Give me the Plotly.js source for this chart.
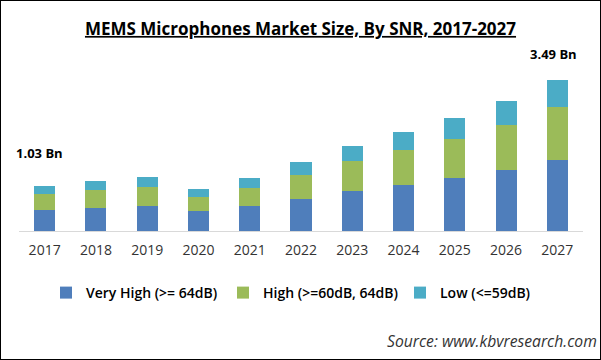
<!DOCTYPE html>
<html><head><meta charset="utf-8">
<script src="https://cdn.plot.ly/plotly-3.0.1.min.js"></script>
<style>html,body{margin:0;padding:0;background:#fff}#c{width:601px;height:360px;box-sizing:border-box;border:1px solid #000;}</style>
</head><body><div id="c"></div>
<script>
var years = ['2017','2018','2019','2020','2021','2022','2023','2024','2025','2026','2027'];
var veryHigh = [0.48,0.53,0.57,0.46,0.57,0.74,0.93,1.07,1.23,1.41,1.65];
var high     = [0.37,0.41,0.44,0.33,0.42,0.56,0.69,0.81,0.90,1.04,1.21];
var low      = [0.18,0.21,0.23,0.18,0.23,0.30,0.35,0.42,0.49,0.56,0.63];
var seriesNames = ['Very High (>= 64dB)','High (>=60dB, 64dB)','Low (<=59dB)'];
var colors = ['#4F7EBB','#9BBB59','#4BACC6'];
var firstLabel = '1.03 Bn', lastLabel = '3.49 Bn';

var totals = years.map(function(_,i){return veryHigh[i]+high[i]+low[i];});
var data = [veryHigh, high, low].map(function(v,k){
  return {type:'bar', x:years, y:v, name:seriesNames[k], marker:{color:colors[k]}, hoverinfo:'none'};
});
var font = 'Open Sans, sans-serif';
var last = years.length-1;
var layout = {
  width:599, height:358, barmode:'stack', bargap:0.59,
  margin:{l:18,r:17,t:57,b:128},
  paper_bgcolor:'#fff', plot_bgcolor:'#fff',
  showlegend:true,
  title:{text:'MEMS Microphones Market Size, By SNR, 2017-2027', x:0.5, xref:'container', xanchor:'center',
         y:1-28/358, yref:'container', yanchor:'middle',
         font:{family:font, size:17, weight:700, color:'#000', lineposition:'under'}},
  xaxis:{type:'category', range:[-0.5, last+0.5], showline:true, linecolor:'#D9D9D9', linewidth:1, ticks:'', showgrid:false,
         ticklabelstandoff:6, tickfont:{family:font, size:14, color:'#333'}, fixedrange:true},
  yaxis:{range:[0,4], visible:false, showgrid:false, zeroline:false, fixedrange:true},
  legend:{orientation:'h', xref:'container', yref:'container', x:45/599, xanchor:'left', y:1-292/358, yanchor:'middle',
          font:{family:font, size:14, weight:600, color:'#000'}, traceorder:'normal', entrywidth:132, entrywidthmode:'pixels'},
  annotations:[
    {x:0, y:totals[0], xref:'x', yref:'y', text:firstLabel, showarrow:false, yanchor:'bottom', xshift:-5, yshift:22,
     font:{family:font, size:13, weight:700, color:'#000'}},
    {x:last, y:totals[last], xref:'x', yref:'y', text:lastLabel, showarrow:false, yanchor:'bottom', xshift:-4, yshift:15,
     font:{family:font, size:13, weight:700, color:'#000'}},
    {x:1, y:0, xref:'paper', yref:'paper', text:'<i>Source: www.kbvresearch.com</i>', showarrow:false, xanchor:'right', yanchor:'middle',
     xshift:16, yshift:-110, font:{family:font, size:15.7, color:'#333'}}
  ]
};
Plotly.newPlot('c', data, layout, {displayModeBar:false, staticPlot:true});
</script></body></html>
